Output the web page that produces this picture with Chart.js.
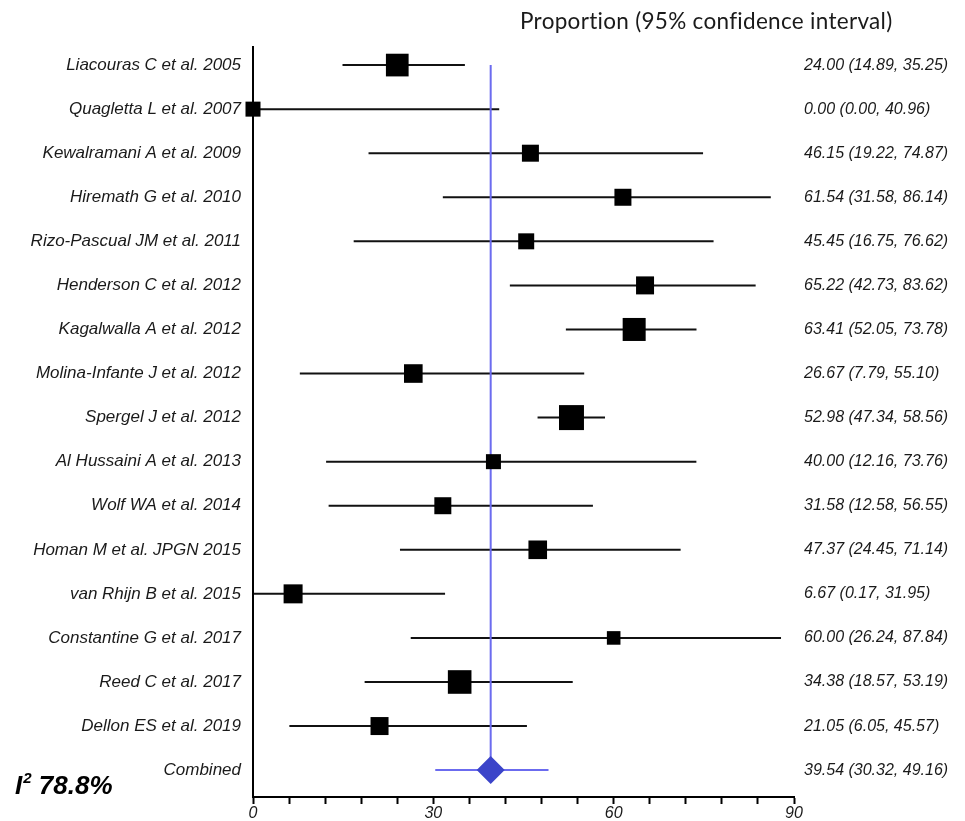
<!DOCTYPE html>
<html>
<head>
<meta charset="utf-8">
<script src="https://cdn.jsdelivr.net/npm/chart.js@4.4.1/dist/chart.umd.min.js"></script>
<style>
  html, body { margin: 0; padding: 0; background: #ffffff; }
  #wrap { width: 965px; height: 821px; position: relative; }
</style>
</head>
<body>
<div id="wrap"><canvas id="c"></canvas></div>
<script>
// ---------- data ----------
const studies = [
  'Liacouras C et al. 2005',
  'Quagletta L et al. 2007',
  'Kewalramani A et al. 2009',
  'Hiremath G et al. 2010',
  'Rizo-Pascual JM et al. 2011',
  'Henderson C et al. 2012',
  'Kagalwalla A et al. 2012',
  'Molina-Infante J et al. 2012',
  'Spergel J et al. 2012',
  'Al Hussaini A et al. 2013',
  'Wolf WA et al. 2014',
  'Homan M et al. JPGN 2015',
  'van Rhijn B et al. 2015',
  'Constantine G et al. 2017',
  'Reed C et al. 2017',
  'Dellon ES et al. 2019'
];
const estimates = [24.00, 0.00, 46.15, 61.54, 45.45, 65.22, 63.41, 26.67, 52.98, 40.00, 31.58, 47.37, 6.67, 60.00, 34.38, 21.05];
const lowerCI   = [14.89, 0.00, 19.22, 31.58, 16.75, 42.73, 52.05, 7.79, 47.34, 12.16, 12.58, 24.45, 0.17, 26.24, 18.57, 6.05];
const upperCI   = [35.25, 40.96, 74.87, 86.14, 76.62, 83.62, 73.78, 55.10, 58.56, 73.76, 56.55, 71.14, 31.95, 87.84, 53.19, 45.57];
// relative study weights (%)
const weights   = [9.06, 3.96, 5.08, 5.08, 4.50, 5.70, 9.31, 6.09, 10.99, 3.96, 5.08, 6.09, 6.35, 3.25, 9.80, 5.70];
const pooledLabel = 'Combined';
const pooledEstimate = [39.54];
const pooledLower = [30.32];
const pooledUpper = [49.16];
const heterogeneityI2 = 78.8;
const xMajorTicks = [0, 30, 60, 90];
const titleText = 'Proportion (95% confidence interval)';

// ---------- derived ----------
const rowLabels = studies.concat([pooledLabel]);
const allEst = estimates.concat(pooledEstimate);
const allLo = lowerCI.concat(pooledLower);
const allHi = upperCI.concat(pooledUpper);
const ciText = allEst.map((e, i) => `${e.toFixed(2)} (${allLo[i].toFixed(2)}, ${allHi[i].toFixed(2)})`);
const nStudies = studies.length;

const BLACK = '#000000';
const BLUE_LINE = '#6b6bef';
const BLUE_DIAMOND = '#3b44c9';
const TEXT = '#1a1a1a';
const SANS = '"Liberation Sans", Arial, sans-serif';

const Y_MIN = -0.41, Y_MAX = 16.61;

function markerRadius(w) {
  const side = Math.sqrt(w * 56.85);
  return side / Math.SQRT2;
}

const extraText = {
  id: 'extraText',
  afterDraw(chart) {
    const ctx = chart.ctx;
    ctx.save();
    ctx.fillStyle = TEXT;
    ctx.textBaseline = 'alphabetic';
    ctx.textAlign = 'left';
    ctx.font = '22.5px Lato, "Open Sans", sans-serif';
    try { ctx.letterSpacing = '0.3px'; } catch (e) {}
    ctx.fillText(titleText, 520, 29);
    try { ctx.letterSpacing = '0px'; } catch (e) {}

    let x = 15;
    const base = 794;
    ctx.fillStyle = '#000';
    ctx.font = 'italic bold 26px ' + SANS;
    ctx.fillText('I', x, base);
    x += ctx.measureText('I').width + 1;
    ctx.font = 'italic bold 15px ' + SANS;
    ctx.fillText('2', x, base - 11);
    x += ctx.measureText('2').width;
    ctx.font = 'italic bold 26px ' + SANS;
    ctx.fillText(' ' + heterogeneityI2.toFixed(1) + '%', x, base);
    ctx.restore();
  }
};

const ctx = document.getElementById('c').getContext('2d');
new Chart(ctx, {
  type: 'scatter',
  data: {
    datasets: [
      {
        type: 'scatter',
        label: 'studies',
        data: estimates.map((e, i) => ({ x: e, y: i })),
        pointStyle: 'rect',
        pointRadius: (c) => markerRadius(weights[c.dataIndex] || 5),
        pointHoverRadius: (c) => markerRadius(weights[c.dataIndex] || 5),
        backgroundColor: BLACK,
        borderColor: BLACK,
        borderWidth: 0,
        clip: false,
        order: 0
      },
      {
        type: 'scatter',
        label: 'pooled',
        data: pooledEstimate.map((e) => ({ x: e, y: nStudies })),
        pointStyle: 'rectRot',
        pointRadius: 14,
        pointHoverRadius: 14,
        backgroundColor: BLUE_DIAMOND,
        borderColor: BLUE_DIAMOND,
        borderWidth: 0,
        clip: false,
        order: 0
      },
      {
        type: 'scatter',
        label: 'pooled line',
        data: [{ x: pooledEstimate[0], y: 0 }, { x: pooledEstimate[0], y: nStudies }],
        showLine: true,
        borderColor: BLUE_LINE,
        borderWidth: 2,
        pointRadius: 0,
        pointHoverRadius: 0,
        clip: false,
        order: 1
      },
      {
        type: 'bar',
        label: 'ci',
        indexAxis: 'y',
        data: rowLabels.map((_, i) => ({ x: [allLo[i], allHi[i]], y: i })),
        backgroundColor: rowLabels.map((_, i) => i === nStudies ? BLUE_LINE : '#111111'),
        borderWidth: 0,
        barThickness: 2,
        borderSkipped: false,
        inflateAmount: 0,
        clip: false,
        order: 2
      }
    ]
  },
  options: {
    responsive: true,
    maintainAspectRatio: false,
    animation: false,
    events: [],
    layout: { padding: { top: 47, left: 0, right: 0, bottom: 0 } },
    plugins: {
      legend: { display: false },
      tooltip: { enabled: false },
      title: { display: false }
    },
    scales: {
      x: {
        type: 'linear',
        min: 0,
        max: 90,
        offset: false,
        afterFit: (a) => { a.height = 24; },
        afterBuildTicks: (a) => {
          const t = [];
          for (let v = 0; v <= 90; v += 6) t.push({ value: v });
          a.ticks = t;
        },
        ticks: {
          autoSkip: false,
          maxRotation: 0,
          padding: 0,
          color: TEXT,
          font: { family: SANS, size: 16, style: 'italic' },
          callback: (v) => xMajorTicks.includes(v) ? String(v) : ''
        },
        grid: {
          display: true,
          offset: false,
          drawOnChartArea: false,
          drawTicks: true,
          tickLength: 7,
          tickColor: BLACK,
          tickWidth: 2,
          color: BLACK
        },
        border: { display: true, color: BLACK, width: 2 }
      },
      y: {
        type: 'linear',
        position: 'left',
        reverse: true,
        offset: false,
        min: Y_MIN,
        max: Y_MAX,
        afterFit: (a) => { a.width = 253; },
        afterBuildTicks: (a) => { a.ticks = rowLabels.map((_, i) => ({ value: i })); },
        ticks: {
          autoSkip: false,
          padding: 12,
          color: TEXT,
          font: { family: SANS, size: 17, style: 'italic' },
          callback: (v) => rowLabels[v] !== undefined ? rowLabels[v] : ''
        },
        grid: { display: false, offset: false, drawOnChartArea: false, drawTicks: false },
        border: { display: true, color: BLACK, width: 2 }
      },
      y2: {
        type: 'linear',
        position: 'right',
        reverse: true,
        offset: false,
        min: Y_MIN,
        max: Y_MAX,
        afterFit: (a) => { a.width = 171; },
        afterBuildTicks: (a) => { a.ticks = rowLabels.map((_, i) => ({ value: i })); },
        ticks: {
          autoSkip: false,
          padding: 10,
          color: TEXT,
          font: { family: SANS, size: 16, style: 'italic' },
          callback: (v) => ciText[v] !== undefined ? ciText[v] : ''
        },
        grid: { display: false, offset: false, drawOnChartArea: false, drawTicks: false },
        border: { display: false }
      }
    }
  },
  plugins: [extraText]
});
</script>
</body>
</html>
